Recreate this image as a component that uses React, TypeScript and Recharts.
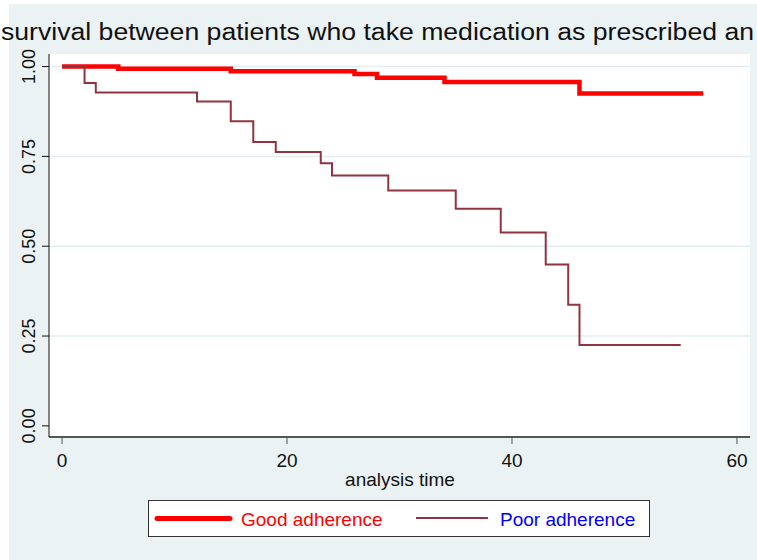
import { CartesianGrid, Line, LineChart, XAxis, YAxis } from "recharts";

// Kaplan-Meier steps
const goodTimes = [0, 5, 15, 26, 28, 34, 46, 57];
const goodSurvival = [1, 0.994, 0.987, 0.979, 0.969, 0.957, 0.925, 0.925];

const poorTimes = [0, 2, 3, 12, 15, 17, 19, 23, 24, 29, 35, 39, 43, 45, 46, 55];
const poorSurvival = [
  1, 0.954, 0.928, 0.903, 0.848, 0.79, 0.762, 0.731, 0.697, 0.655, 0.604,
  0.538, 0.449, 0.337, 0.225, 0.225,
];

const xTicks = [0, 20, 40, 60];
const yTicks = [0, 0.25, 0.5, 0.75, 1];

const titleText = "survival between patients who take medication as prescribed an";
const xTitle = "analysis time";
const goodLabel = "Good adherence";
const poorLabel = "Poor adherence";

const BG = "#EAF2F3";
const RED = "#FF0000";
const MAROON = "#903540";
const FONT = "'Liberation Sans', Arial, sans-serif";

const goodData = goodTimes.map((t, i) => ({ t, s: goodSurvival[i] }));
const poorData = poorTimes.map((t, i) => ({ t, s: poorSurvival[i] }));

const YTick = ({ y, payload }: any) => (
  <text
    x={35}
    y={y}
    transform={`rotate(-90, 35, ${y})`}
    textAnchor="middle"
    fontSize={18}
    fill="#111"
    fontFamily={FONT}
  >
    {payload.value.toFixed(2)}
  </text>
);

const XTick = ({ x, payload }: any) => (
  <text
    x={x}
    y={467}
    textAnchor="middle"
    fontSize={19}
    fill="#111"
    fontFamily={FONT}
  >
    {payload.value}
  </text>
);

const KMLegend = () => (
  <svg
    width={502}
    height={37}
    style={{ position: "absolute", left: 148, top: 500, display: "block" }}
  >
    <rect x={0.5} y={0.5} width={501} height={36} fill="#fff" stroke="#333" />
    <line x1={9} y1={18.5} x2={82} y2={18.5} stroke={RED} strokeWidth={5} strokeLinecap="round" />
    <text x={93} y={26} fontSize={19} fill={RED} fontFamily={FONT}>
      {goodLabel}
    </text>
    <line x1={268} y1={18} x2={340} y2={18} stroke={MAROON} strokeWidth={2} />
    <text x={352} y={26} fontSize={19} fill="#0000FF" fontFamily={FONT}>
      {poorLabel}
    </text>
  </svg>
);

export default function App() {
  return (
    <div style={{ position: "absolute", left: 0, top: 0, width: 757, height: 560 }}>
      <div
        style={{ position: "absolute", left: 9, top: 4, width: 748, height: 556, background: BG }}
      />
      <div style={{ position: "absolute", left: 0, top: 0 }}>
        <LineChart
          width={757}
          height={560}
          margin={{ top: 54, right: 7, bottom: 93, left: 9 }}
        >
          <CartesianGrid
            fill="#fff"
            vertical={false}
            horizontalValues={[0.25, 0.5, 0.75, 1]}
            stroke="#E3ECEE"
            strokeWidth={1.5}
          />
          <XAxis
            type="number"
            dataKey="t"
            domain={[-1.16, 61.16]}
            ticks={xTicks}
            allowDataOverflow
            height={30}
            tickSize={7}
            axisLine={{ stroke: "#555", strokeWidth: 2 }}
            tickLine={{ stroke: "#555" }}
            tick={<XTick />}
          />
          <YAxis
            type="number"
            dataKey="s"
            domain={[-0.031, 1.035]}
            ticks={yTicks}
            allowDataOverflow
            width={40}
            tickSize={7}
            axisLine={{ stroke: "#111" }}
            tickLine={{ stroke: "#111" }}
            tick={<YTick />}
          />
          <Line
            data={goodData}
            dataKey="s"
            type="stepAfter"
            stroke={RED}
            strokeWidth={4.5}
            dot={false}
            isAnimationActive={false}
          />
          <Line
            data={poorData}
            dataKey="s"
            type="stepAfter"
            stroke={MAROON}
            strokeWidth={2}
            dot={false}
            isAnimationActive={false}
          />
        </LineChart>
      </div>
      <KMLegend />
      <svg
        width={757}
        height={560}
        style={{ position: "absolute", left: 0, top: 0, pointerEvents: "none" }}
      >
        <text
          x={1}
          y={40}
          fontSize={23}
          fill="#111"
          fontFamily={FONT}
          textLength={753}
          lengthAdjust="spacingAndGlyphs"
        >
          {titleText}
        </text>
        <text x={400} y={486} textAnchor="middle" fontSize={19} fill="#111" fontFamily={FONT}>
          {xTitle}
        </text>
      </svg>
    </div>
  );
}
